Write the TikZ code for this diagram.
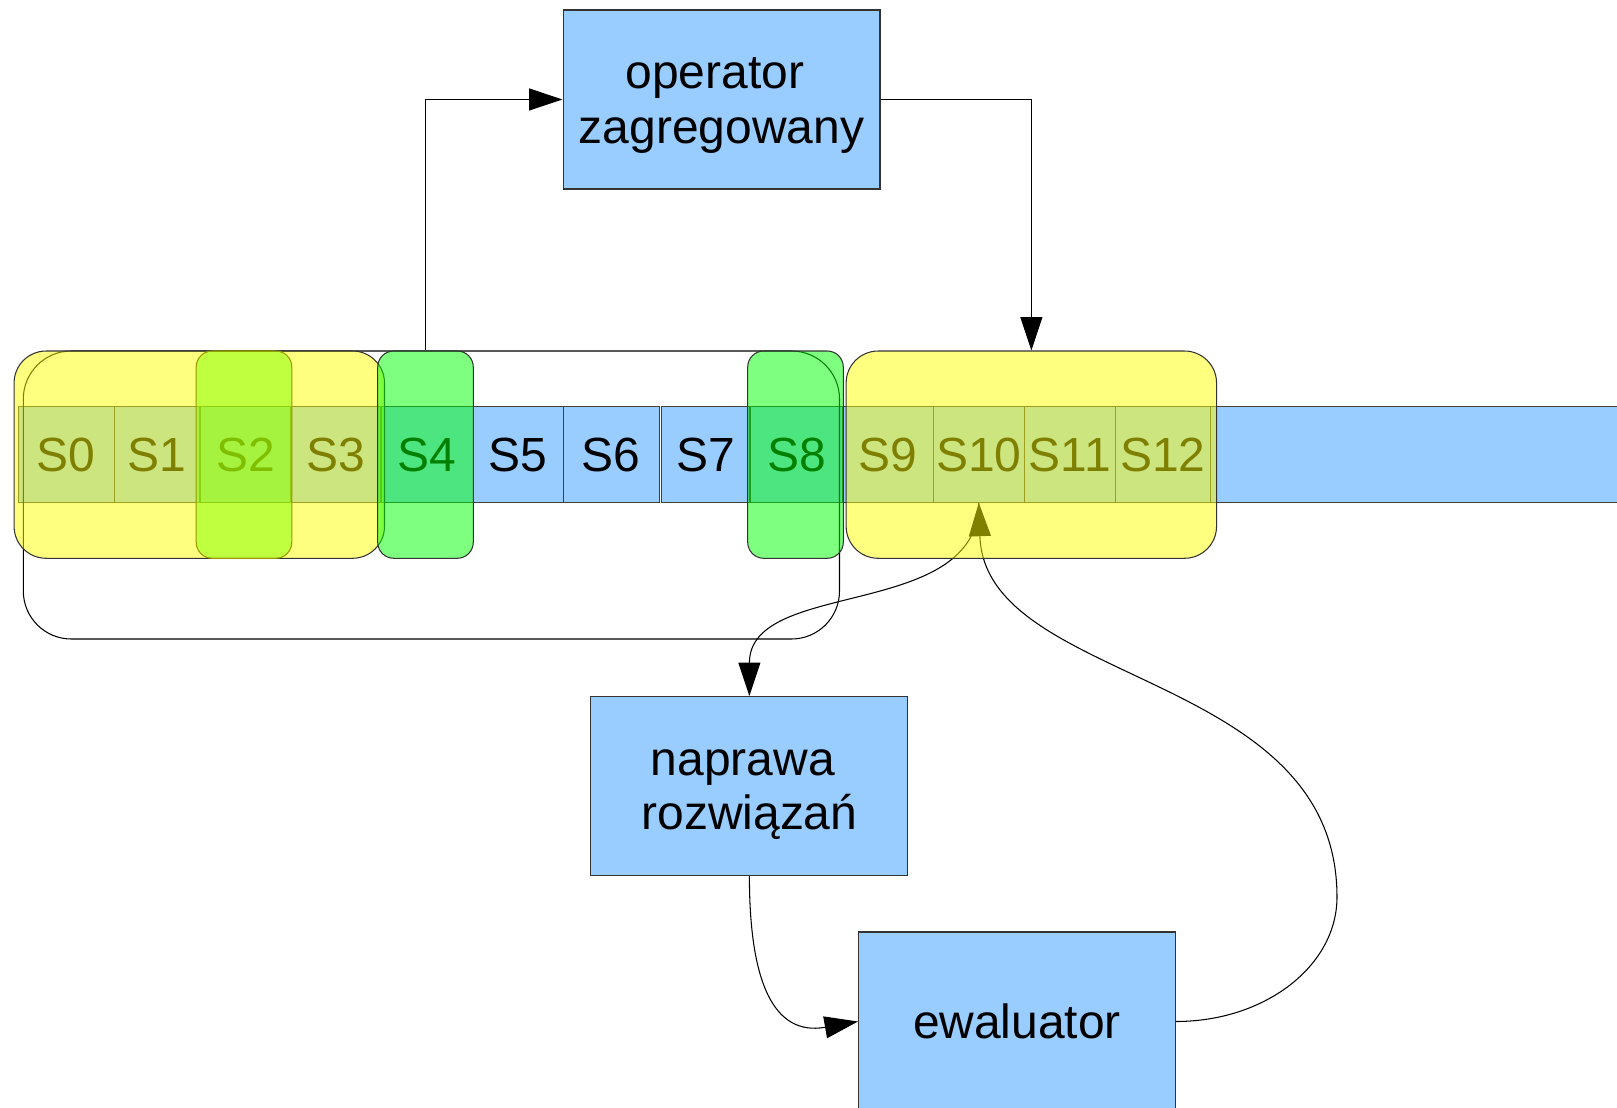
\documentclass[tikz,border=0pt]{standalone}
\usepackage{fontspec}
\setmainfont{Liberation Sans}
\usetikzlibrary{arrows.meta}
\pgfdeclarelayer{front}
\pgfsetlayers{main,front}
\newcommand{\ascstrut}{\rule{0pt}{0.905em}}
\newcommand{\descstrut}{\rule[-0.212em]{0pt}{0pt}}

\begin{document}
\begin{tikzpicture}[x=0.02cm, y=-0.02cm,
        every node/.style={font=\fontsize{27.3pt}{31pt}\selectfont},
        cell/.style={draw=black!75, line width=0.6pt, fill=cellblue, minimum height=1.912cm, inner sep=0pt},
        box/.style={draw=black!80, line width=0.6pt, fill=cellblue, minimum width=6.34cm, minimum height=3.58cm, align=center, inner sep=0pt},
        yellowgrp/.style={draw=black!80, line width=0.6pt, fill=grpyellow, fill opacity=0.5, rounded corners=0.64cm, minimum width=7.41cm, minimum height=4.146cm},
        greensel/.style={draw=black!80, line width=0.6pt, fill=selgreen, fill opacity=0.5, rounded corners=0.32cm, minimum width=1.912cm, minimum height=4.146cm},
        arr/.style={line width=0.6pt, -{Triangle[length=19pt,width=12.5pt]}}]
        \definecolor{cellblue}{HTML}{99CCFF}
        \definecolor{grpyellow}{HTML}{FFFF00}
        \definecolor{selgreen}{HTML}{00FF00}
        \definecolor{sellime}{HTML}{80FF00}
        \definecolor{limeedge}{HTML}{999900}

        \clip (0,0) rectangle (1617,1108);

        \foreach \i/\a/\b in {0/18.3/114.3, 1/114.3/200, 2/200/291, 3/291/381, 4/381/473.3, 5/473.3/563.3, 6/563.3/659.3, 7/661.3/750, 8/750/842.7, 9/842.7/933.3, 10/933.3/1024.3, 11/1024.3/1115.3, 12/1115.3/1210.7}
            \node[cell, minimum width={(\b-\a)*0.02cm}] (S\i) at ({(\a+\b)/2},454.5) {S\i};

        \fill[cellblue] (S12.north east) rectangle ([xshift=9cm]S12.south east);
        \draw[line width=0.6pt, black!75] (S12.north east) -- ++(450,0) (S12.south east) -- ++(450,0);

        \draw[line width=0.6pt, rounded corners=0.96cm] (23.3,351) rectangle (839.5,639);

        \begin{pgfonlayer}{front}
            \node[yellowgrp] (grpA) at (199.3,454.65) {};
            \node[yellowgrp] (grpB) at (1031.35,454.65) {};
            \node[greensel, fill=sellime, draw=limeedge] (selS2) at (244,454.65) {};
            \node[greensel] (selS4) at (425.5,454.65) {};
            \node[greensel] (selS8) at (795.5,454.65) {};
        \end{pgfonlayer}

        \node[box] (oper) at (721.5,99.5) {\ascstrut operator\hphantom{\ }\\ zagregowany\descstrut};
        \node[box] (napr) at (749.4,786) {\ascstrut naprawa\hphantom{\ }\\ rozwiązań\descstrut};
        \node[box] (ewal) at (1017,1021.5) {\ascstrut ewaluator\descstrut};
        \coordinate (evbend) at (1337,897);

        \draw[arr] (selS4.north) |- (oper.west);
        \draw[arr] (oper.east) -| (grpB.north);
        \draw[arr] (S10.south) .. controls +(0,118) and +(0,-118) .. (napr.north);
        \draw[arr] (napr.south) .. controls +(0,105) and +(-85,15) .. (ewal.west);
        \draw[arr] (ewal.east) .. controls +(89,0) and +(0,69) .. (evbend) .. controls +(0,-228) and +(6,184) .. (S10.south);
    \end{tikzpicture}
\end{document}
